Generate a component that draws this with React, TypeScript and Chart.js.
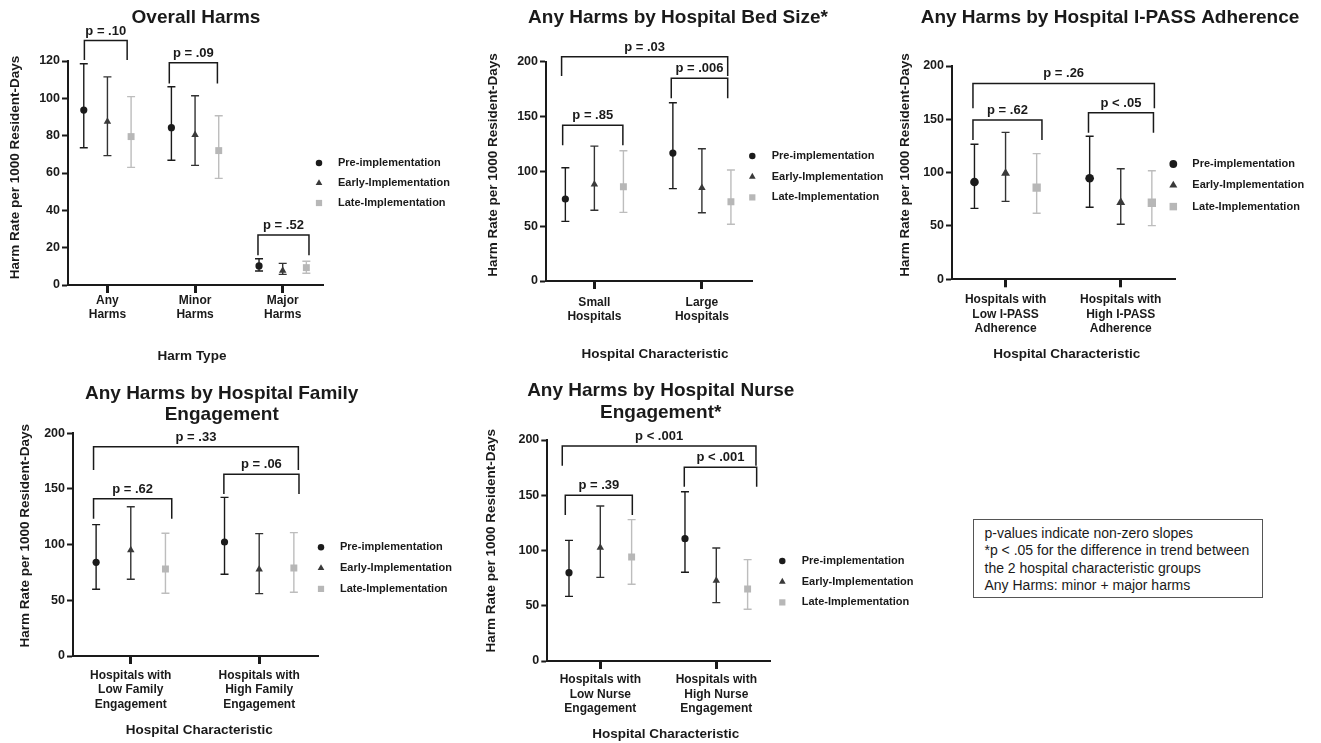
import { useEffect, useRef } from "react";
import { Chart, registerables } from "chart.js";

Chart.register(...registerables);

const FONT = "'Liberation Sans', Arial, Helvetica, sans-serif";
const INK = "#1a1a1a";

// ---- series ----
const seriesNames = ["Pre-implementation", "Early-Implementation", "Late-Implementation"];
const seriesFill = ["#1b1b1b", "#3a3a3a", "#b7b7b7"];
const seriesBar = ["#1b1b1b", "#333333", "#bdbdbd"];
const seriesStyle = ["circle", "triangle", "rect"];
const seriesRadius = [3.6, 4.3, 4.9];
const seriesDodge = [-0.27, 0, 0.27];

// ---- Overall Harms: [mean, lower, upper] per category ----
const overallCategories = [["Any", "Harms"], ["Minor", "Harms"], ["Major", "Harms"]];
const overallPre = [[93.7, 73.5, 118.5], [84.3, 66.8, 106.2], [10.2, 7.5, 14.1]];
const overallEarly = [[87.5, 69.3, 111.5], [80.4, 64.1, 101.4], [7.7, 5.7, 11.6]];
const overallLate = [[79.5, 63, 100.9], [72, 57.1, 90.7], [9.3, 6.3, 12.7]];
const overallBrackets: [string, number, number, number, number][] = [
  ["p = .10", -0.263, 0.225, 131, 120.5],
  ["p = .09", 0.706, 1.255, 119, 108],
  ["p = .52", 1.718, 2.3, 26.8, 16],
];

// ---- Any Harms by Hospital Bed Size ----
const bedCategories = [["Small", "Hospitals"], ["Large", "Hospitals"]];
const bedPre = [[74.8, 54.4, 103.3], [116.7, 84.2, 162.6]];
const bedEarly = [[88.2, 64.5, 123], [85, 62.3, 120.6]];
const bedLate = [[86, 62.6, 118.8], [72.3, 51.7, 101.2]];
const bedBrackets: [string, number, number, number, number][] = [
  ["p = .85", -0.295, 0.265, 142, 123.8],
  ["p = .006", 0.715, 1.24, 184.8, 166.6],
  ["p = .03", -0.305, 1.24, 204.5, 187],
];

// ---- Any Harms by Hospital I-PASS Adherence ----
const ipassCategories = [
  ["Hospitals with", "Low I-PASS", "Adherence"],
  ["Hospitals with", "High I-PASS", "Adherence"],
];
const ipassPre = [[91.2, 66.5, 126.6], [94.7, 67.5, 134.1]];
const ipassEarly = [[99.4, 73.1, 137.8], [72.2, 51.6, 103.7]];
const ipassLate = [[85.9, 61.9, 117.8], [71.8, 50.3, 101.8]];
const ipassBrackets: [string, number, number, number, number][] = [
  ["p = .62", -0.283, 0.316, 149.3, 130.6],
  ["p < .05", 0.72, 1.284, 156.2, 137.4],
  ["p = .26", -0.283, 1.292, 183.7, 160.3],
];

// ---- Any Harms by Hospital Family Engagement ----
const familyCategories = [
  ["Hospitals with", "Low Family", "Engagement"],
  ["Hospitals with", "High Family", "Engagement"],
];
const familyPre = [[84.1, 59.9, 118], [102.4, 73.4, 142.5]];
const familyEarly = [[95.2, 68.9, 134.1], [77.9, 56, 109.9]];
const familyLate = [[78.1, 56.3, 110.2], [79, 57.2, 110.8]];
const familyBrackets: [string, number, number, number, number][] = [
  ["p = .62", -0.29, 0.319, 141.3, 123.3],
  ["p = .06", 0.725, 1.31, 163.2, 145.5],
  ["p = .33", -0.29, 1.305, 188, 167],
];

// ---- Any Harms by Hospital Nurse Engagement ----
const nurseCategories = [
  ["Hospitals with", "Low Nurse", "Engagement"],
  ["Hospitals with", "High Nurse", "Engagement"],
];
const nursePre = [[79.9, 58.5, 109.2], [110.7, 80.3, 153.2]];
const nurseEarly = [[102.6, 75.7, 140.3], [72.7, 52.8, 102.3]];
const nurseLate = [[94.1, 69.4, 127.9], [65.2, 46.8, 91.7]];
const nurseBrackets: [string, number, number, number, number][] = [
  ["p = .39", -0.302, 0.276, 150, 132.1],
  ["p < .001", 0.724, 1.348, 175.3, 157.7],
  ["p < .001", -0.328, 1.342, 194.6, 176.7],
];

const yAxisTitle = "Harm Rate per 1000 Resident-Days";

type Panel = {
  box: [number, number, number, number];
  area: [number, number, number, number];
  xRange: [number, number];
  yMax: number;
  yStep: number;
  categories: string[][];
  values: number[][][];
  brackets: [string, number, number, number, number][];
  title: string[];
  titleAt: [number, number];
  yTitleAt: [number, number];
  xTitle: string;
  xTitleAt: [number, number];
  legend: [number, number, number, number];
  tickPad: number;
  markerScale: number;
};

const panels: Panel[] = [
  {
    box: [0, 0, 480, 370],
    area: [68, 61, 323, 285],
    xRange: [-0.45, 2.46],
    yMax: 120,
    yStep: 20,
    categories: overallCategories,
    values: [overallPre, overallEarly, overallLate],
    brackets: overallBrackets,
    title: ["Overall Harms"],
    titleAt: [196, 18],
    yTitleAt: [15, 167.5],
    xTitle: "Harm Type",
    xTitleAt: [192, 356],
    legend: [319, 338, 163, 20],
    tickPad: 0,
    markerScale: 1,
  },
  {
    box: [440, 0, 460, 370],
    area: [546, 61.7, 752, 281],
    xRange: [-0.45, 1.466],
    yMax: 200,
    yStep: 50,
    categories: bedCategories,
    values: [bedPre, bedEarly, bedLate],
    brackets: bedBrackets,
    title: ["Any Harms by Hospital Bed Size*"],
    titleAt: [678, 18],
    yTitleAt: [493, 165],
    xTitle: "Hospital Characteristic",
    xTitleAt: [655, 354.3],
    legend: [752.3, 771.7, 156, 20.7],
    tickPad: 6.5,
    markerScale: 1,
  },
  {
    box: [880, 0, 441, 370],
    area: [952, 66, 1175, 279.3],
    xRange: [-0.465, 1.471],
    yMax: 200,
    yStep: 50,
    categories: ipassCategories,
    values: [ipassPre, ipassEarly, ipassLate],
    brackets: ipassBrackets,
    title: ["Any Harms by Hospital I-PASS Adherence"],
    titleAt: [1110, 17.3],
    yTitleAt: [905, 165],
    xTitle: "Hospital Characteristic",
    xTitleAt: [1066.7, 354.3],
    legend: [1173.3, 1192.3, 164, 21.3],
    tickPad: 5.5,
    markerScale: 1.2,
  },
  {
    box: [0, 370, 470, 373],
    area: [73, 433.3, 318, 656],
    xRange: [-0.45, 1.458],
    yMax: 200,
    yStep: 50,
    categories: familyCategories,
    values: [familyPre, familyEarly, familyLate],
    brackets: familyBrackets,
    title: ["Any Harms by Hospital Family", "Engagement"],
    titleAt: [221.7, 393.3],
    yTitleAt: [25, 535.8],
    xTitle: "Hospital Characteristic",
    xTitleAt: [199.3, 730.7],
    legend: [321, 340, 547.3, 20.8],
    tickPad: 4.5,
    markerScale: 1,
  },
  {
    box: [440, 370, 500, 373],
    area: [547.3, 440, 770, 661],
    xRange: [-0.457, 1.463],
    yMax: 200,
    yStep: 50,
    categories: nurseCategories,
    values: [nursePre, nurseEarly, nurseLate],
    brackets: nurseBrackets,
    title: ["Any Harms by Hospital Nurse", "Engagement*"],
    titleAt: [660.7, 390.7],
    yTitleAt: [491.7, 540.8],
    xTitle: "Hospital Characteristic",
    xTitleAt: [665.7, 734],
    legend: [782.3, 801.7, 561, 20.7],
    tickPad: 3.8,
    markerScale: 1,
  },
];

const noteLines = [
  "p-values indicate non-zero slopes",
  "*p < .05 for the difference in trend between",
  "the 2 hospital characteristic groups",
  "Any Harms: minor + major harms",
];

function drawMarker(ctx: CanvasRenderingContext2D, style: string, x: number, y: number, r: number) {
  ctx.beginPath();
  if (style === "circle") {
    ctx.arc(x, y, r, 0, Math.PI * 2);
  } else if (style === "triangle") {
    for (let k = 0; k < 3; k++) {
      const a = (k * 2 * Math.PI) / 3;
      const px = x + Math.sin(a) * r;
      const py = y - Math.cos(a) * r;
      if (k === 0) ctx.moveTo(px, py);
      else ctx.lineTo(px, py);
    }
    ctx.closePath();
  } else {
    const s = Math.SQRT1_2 * r;
    ctx.rect(x - s, y - s, 2 * s, 2 * s);
  }
  ctx.fill();
}

// Vertical interval lines with caps, drawn under the point markers
const errorBarPlugin = {
  id: "errorBars",
  beforeDatasetsDraw(chart: any) {
    const ctx = chart.ctx as CanvasRenderingContext2D;
    const ys = chart.scales.y;
    ctx.save();
    chart.data.datasets.forEach((ds: any, si: number) => {
      const meta = chart.getDatasetMeta(si);
      ds.data.forEach((d: any, i: number) => {
        const el = meta.data[i];
        const x = el.x;
        const yHi = ys.getPixelForValue(d.hi);
        const yLo = ys.getPixelForValue(d.lo);
        const cap = 4;
        ctx.strokeStyle = seriesBar[si];
        ctx.lineWidth = 1.4;
        ctx.beginPath();
        ctx.moveTo(x, yHi);
        ctx.lineTo(x, yLo);
        ctx.moveTo(x - cap, yHi);
        ctx.lineTo(x + cap, yHi);
        ctx.moveTo(x - cap, yLo);
        ctx.lineTo(x + cap, yLo);
        ctx.stroke();
      });
    });
    ctx.restore();
  },
};

// Titles, axis titles, significance brackets and the legend
function decorPlugin(p: Panel) {
  return {
    id: "decor",
    afterDraw(chart: any) {
      const ctx = chart.ctx as CanvasRenderingContext2D;
      const [ox, oy] = p.box;
      const xs = chart.scales.x;
      const ys = chart.scales.y;
      ctx.save();
      ctx.fillStyle = INK;
      ctx.textAlign = "center";
      ctx.textBaseline = "middle";

      ctx.font = `bold 19px ${FONT}`;
      p.title.forEach((line, i) => {
        ctx.fillText(line, p.titleAt[0] - ox, p.titleAt[1] - oy + i * 21.8);
      });

      ctx.font = `bold 13.5px ${FONT}`;
      ctx.fillText(p.xTitle, p.xTitleAt[0] - ox, p.xTitleAt[1] - oy);
      ctx.save();
      ctx.translate(p.yTitleAt[0] - ox, p.yTitleAt[1] - oy);
      ctx.rotate(-Math.PI / 2);
      ctx.fillText(yAxisTitle, 0, 0);
      ctx.restore();

      ctx.strokeStyle = INK;
      ctx.lineWidth = 1.5;
      ctx.lineJoin = "miter";
      ctx.font = `bold 13px ${FONT}`;
      p.brackets.forEach(([label, x1, x2, top, leg]) => {
        const px1 = xs.getPixelForValue(x1);
        const px2 = xs.getPixelForValue(x2);
        const pt = ys.getPixelForValue(top);
        const pl = ys.getPixelForValue(leg);
        ctx.beginPath();
        ctx.moveTo(px1, pl);
        ctx.lineTo(px1, pt);
        ctx.lineTo(px2, pt);
        ctx.lineTo(px2, pl);
        ctx.stroke();
        ctx.fillText(label, (px1 + px2) / 2, pt - 9.5);
      });

      const [mx, tx, ly, gap] = p.legend;
      ctx.textAlign = "left";
      ctx.font = `bold 11px ${FONT}`;
      seriesNames.forEach((name, i) => {
        const y = ly - oy + i * gap;
        ctx.fillStyle = seriesFill[i];
        drawMarker(ctx, seriesStyle[i], mx - ox, y, seriesRadius[i] * 0.9 * p.markerScale);
        ctx.fillStyle = INK;
        ctx.fillText(name, tx - ox, y);
      });
      ctx.restore();
    },
  };
}

function buildConfig(p: Panel): any {
  const [bx, by, bw, bh] = p.box;
  const [ax0, ay0, ax1, ay1] = p.area;
  const datasets = seriesNames.map((name, si) => ({
    label: name,
    data: p.values[si].map((t, ci) => ({ x: ci + seriesDodge[si], y: t[0], lo: t[1], hi: t[2] })),
    pointStyle: seriesStyle[si],
    pointRadius: seriesRadius[si] * p.markerScale,
    pointHoverRadius: seriesRadius[si] * p.markerScale,
    pointBorderWidth: 0,
    backgroundColor: seriesFill[si],
    borderColor: seriesFill[si],
    showLine: false,
  }));
  const tickFont = { family: FONT, size: 12.5, weight: "bold" as const };
  return {
    type: "scatter",
    data: { datasets },
    options: {
      animation: false,
      responsive: false,
      devicePixelRatio: 1,
      events: [],
      layout: {
        padding: { top: ay0 - by, right: bx + bw - ax1, left: 0, bottom: 0 },
      },
      plugins: { legend: { display: false }, tooltip: { enabled: false }, title: { display: false } },
      scales: {
        x: {
          type: "linear",
          min: p.xRange[0],
          max: p.xRange[1],
          afterBuildTicks: (scale: any) => {
            scale.ticks = p.categories.map((_, i) => ({ value: i }));
          },
          afterFit: (scale: any) => {
            scale.height = by + bh - ay1;
          },
          ticks: {
            autoSkip: false,
            maxRotation: 0,
            minRotation: 0,
            padding: p.tickPad,
            color: INK,
            font: { family: FONT, size: 12, weight: "bold" },
            callback: (v: number) => p.categories[Math.round(v)],
          },
          grid: {
            display: true,
            drawOnChartArea: false,
            drawTicks: true,
            tickLength: 8,
            tickWidth: 3,
            tickColor: INK,
          },
          border: { display: true, color: INK, width: 2 },
        },
        y: {
          type: "linear",
          min: 0,
          max: p.yMax,
          afterFit: (scale: any) => {
            scale.width = ax0 - bx;
          },
          ticks: { stepSize: p.yStep, padding: 2, color: INK, font: tickFont },
          grid: {
            display: true,
            drawOnChartArea: false,
            drawTicks: true,
            tickLength: 6,
            tickWidth: 2,
            tickColor: INK,
          },
          border: { display: true, color: INK, width: 2 },
        },
      },
    },
    plugins: [errorBarPlugin, decorPlugin(p)],
  };
}

function PanelChart({ panel }: { panel: Panel }) {
  const ref = useRef<HTMLCanvasElement>(null);
  useEffect(() => {
    if (!ref.current) return;
    const chart = new Chart(ref.current, buildConfig(panel));
    return () => chart.destroy();
  }, [panel]);
  const [l, t, w, h] = panel.box;
  return (
    <canvas
      ref={ref}
      width={w}
      height={h}
      style={{ position: "absolute", left: l, top: t, width: w, height: h }}
    />
  );
}

export default function App() {
  return (
    <div
      style={{
        position: "absolute",
        left: 0,
        top: 0,
        width: 1321,
        height: 743,
        background: "#ffffff",
        overflow: "hidden",
      }}
    >
      {panels.map((p, i) => (
        <PanelChart key={i} panel={p} />
      ))}
      <div
        style={{
          position: "absolute",
          left: 973,
          top: 519,
          width: 290,
          height: 79,
          boxSizing: "border-box",
          border: "1px solid #555",
          padding: "5px 0 0 10.5px",
          fontFamily: FONT,
          fontSize: 14,
          lineHeight: "17.3px",
          color: INK,
          whiteSpace: "nowrap",
        }}
      >
        {noteLines.map((line, i) => (
          <div key={i}>{line}</div>
        ))}
      </div>
    </div>
  );
}
